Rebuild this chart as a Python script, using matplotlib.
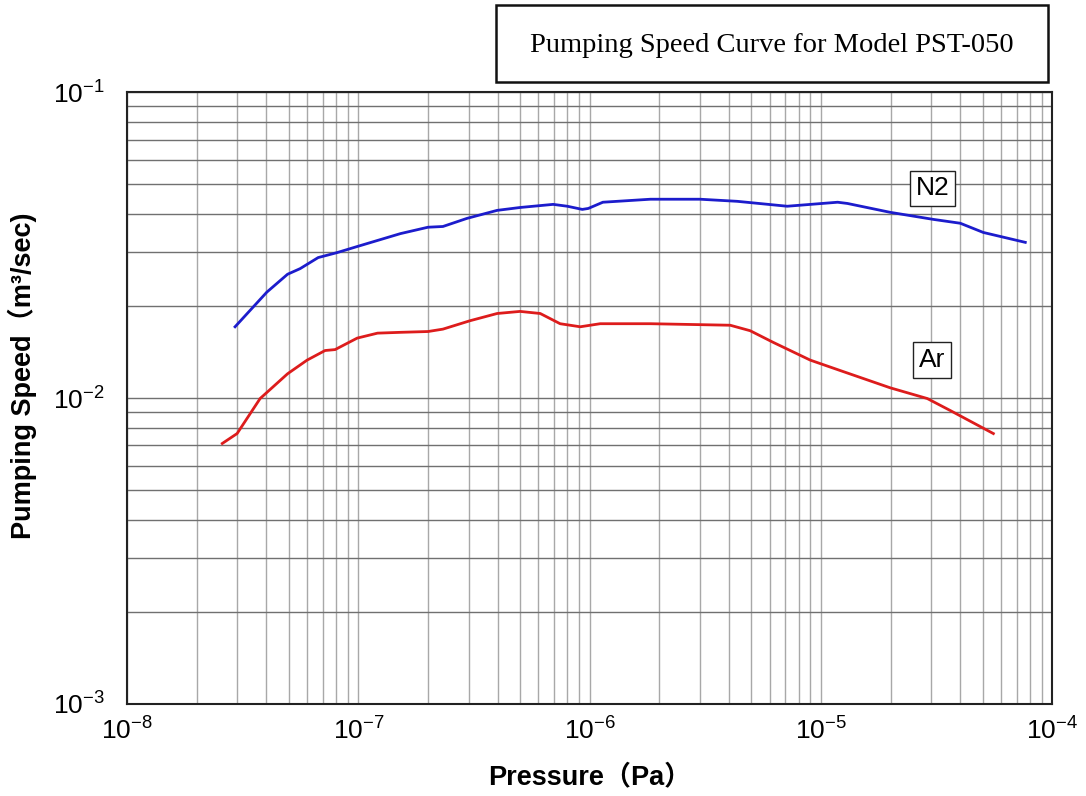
import matplotlib.pyplot as plt
from matplotlib.patches import Rectangle

plt.rcParams['font.family'] = ['Liberation Sans', 'DejaVu Sans']
plt.rcParams['mathtext.default'] = 'regular'

# N2 curve (Pa, m3/sec)
n2_pressure = [2.93e-8, 4.02e-8, 4.94e-8, 5.60e-8, 6.70e-8, 8.09e-8, 9.88e-8, 1.52e-7,
               2.00e-7, 2.32e-7, 2.95e-7, 3.98e-7, 5.0e-7, 6.95e-7, 8.0e-7, 9.29e-7,
               9.86e-7, 1.14e-6, 1.83e-6, 3.0e-6, 4.34e-6, 7.14e-6, 1.18e-5, 1.30e-5,
               1.99e-5, 3.06e-5, 4.0e-5, 5.03e-5, 7.64e-5]
n2_speed = [1.71e-2, 2.22e-2, 2.54e-2, 2.65e-2, 2.88e-2, 2.99e-2, 3.13e-2, 3.45e-2,
            3.62e-2, 3.64e-2, 3.87e-2, 4.11e-2, 4.20e-2, 4.30e-2, 4.24e-2, 4.14e-2,
            4.17e-2, 4.37e-2, 4.47e-2, 4.47e-2, 4.40e-2, 4.24e-2, 4.37e-2, 4.33e-2,
            4.05e-2, 3.84e-2, 3.73e-2, 3.48e-2, 3.23e-2]

# Ar curve
ar_pressure = [2.58e-8, 2.99e-8, 3.76e-8, 4.94e-8, 6.0e-8, 7.18e-8, 7.93e-8, 9.88e-8,
               1.21e-7, 1.52e-7, 2.00e-7, 2.32e-7, 3.04e-7, 3.98e-7, 5.0e-7, 6.11e-7,
               7.45e-7, 9.1e-7, 1.11e-6, 1.83e-6, 4.05e-6, 4.94e-6, 6.22e-6, 8.99e-6,
               1.21e-5, 1.99e-5, 2.88e-5, 3.62e-5, 5.56e-5]
ar_speed = [7.10e-3, 7.65e-3, 9.96e-3, 1.20e-2, 1.33e-2, 1.43e-2, 1.44e-2, 1.57e-2,
            1.63e-2, 1.64e-2, 1.65e-2, 1.68e-2, 1.79e-2, 1.89e-2, 1.92e-2, 1.89e-2,
            1.75e-2, 1.71e-2, 1.75e-2, 1.75e-2, 1.73e-2, 1.66e-2, 1.52e-2, 1.33e-2,
            1.23e-2, 1.08e-2, 9.96e-3, 9.10e-3, 7.65e-3]

title = "Pumping Speed Curve for Model PST-050"

fig = plt.figure(figsize=(10.86, 7.96), dpi=100)
ax = fig.add_axes([0.117, 0.116, 0.852, 0.768])

ax.plot(n2_pressure, n2_speed, color='#1c1ccc', lw=2.0)
ax.plot(ar_pressure, ar_speed, color='#dd1c1c', lw=2.0)

ax.set_xscale('log')
ax.set_yscale('log')
ax.set_xlim(1e-8, 1e-4)
ax.set_ylim(1e-3, 1e-1)

ax.grid(True, which='both', axis='x', color='#a8a8a8', lw=1.0)
ax.grid(True, which='both', axis='y', color='#707070', lw=1.0)
ax.tick_params(which='both', length=0)
ax.tick_params(axis='x', labelsize=19, pad=10)
ax.tick_params(axis='y', labelsize=19, pad=16)
for s in ax.spines.values():
    s.set_linewidth(1.5)
    s.set_color('#222222')

lab_font = ['Liberation Sans', 'Noto Sans CJK JP']
ax.set_xlabel("Pressure（Pa）", fontsize=19.5, fontweight='bold', family=lab_font)
ax.set_ylabel("Pumping Speed（m³/sec)", fontsize=19.5, fontweight='bold', family=lab_font)
ax.xaxis.set_label_coords(0.5, -0.1)
ax.yaxis.set_label_coords(-0.097, 0.537)

ax.text(3.03e-5, 4.85e-2, "N2", fontsize=19, ha='center', va='center',
        bbox=dict(boxstyle='square,pad=0.22', fc='white', ec='#222222', lw=1.0))
ax.text(3.03e-5, 1.33e-2, "Ar", fontsize=19, ha='center', va='center',
        bbox=dict(boxstyle='square,pad=0.22', fc='white', ec='#222222', lw=1.0))

# title box
fig.patches.append(Rectangle((0.4567, 0.897), 0.5083, 0.0967, transform=fig.transFigure,
                             fill=False, ec='#111111', lw=1.8))
fig.text(0.711, 0.943, title, ha='center', va='center', fontsize=20.5,
         family='Liberation Serif')

fig.savefig('out.png', dpi=100)
